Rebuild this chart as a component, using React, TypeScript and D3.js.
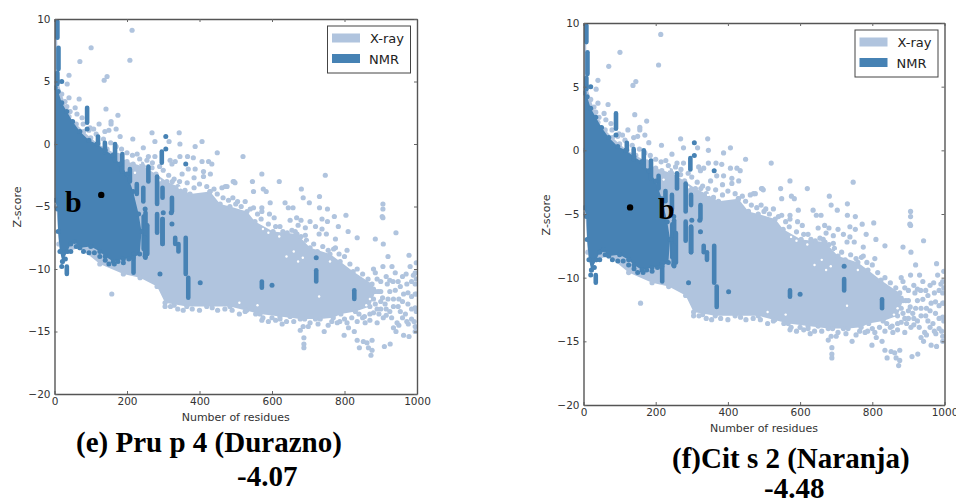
import * as d3 from "d3";
import {useEffect, useRef} from "react";

type Pt = [number, number];

const xTicks = [0, 200, 400, 600, 800, 1000];
const yTicks = [-20, -15, -10, -5, 0, 5, 10];
const legendLabels = ["X-ray", "NMR"];
const LIGHT = "#b0c4de";
const DARK = "#4682b4";

// outline of the solid X-ray cloud (residues, z-score)
const xrayOutline: Pt[] = [
    [1, 10], [6, 10], [10, 5], [20, 4], [40, 2.2], [60, 1.6], [80, 1], [100, .5], [120, 0], [145, -.4],
    [175, -.9], [200, -1.4], [245, -1.8], [280, -2.4], [310, -3], [340, -3.4], [374, -4], [429, -3.8],
    [457, -4.8], [484, -5], [531, -5.4], [553, -6.2], [603, -7], [669, -7.2], [705, -8.3], [760, -8.8],
    [788, -9.4], [824, -10.2], [876, -11.2], [885, -11.8], [870, -13], [830, -13.4], [790, -13.6],
    [769, -13.9], [733, -14], [678, -14], [622, -13.8], [567, -13.6], [484, -13], [420, -13], [365, -13],
    [305, -12.7], [283, -11.4], [236, -10.7], [190, -10.4], [125, -9.6], [70, -8.3], [35, -8.6],
    [22, -9.4], [12, -8], [5, -5], [1, 0],
];

// separate X-ray structures
const xrayPoints: Pt[] = [
    [214, 9.1], [101, 7.7], [208, 6.7], [70, 6.6], [145, 5.4], [137, 5.1], [40, 5.5], [35, 4.8], [68, 3.6],
    [142, 2.8], [175, 2.3], [40, 3.7], [123, 1.6], [156, 1.8], [156, 1.6], [170, 1.2], [150, 1.1], [139, 1],
    [269, .9], [181, .6], [216, .4], [57, 2.9], [62, 2.4], [76, 2.1], [79, 1.6], [29, 3.4], [34, 3], [43, 2.6],
    [98, 1.3], [108, 1.2], [344, .9], [277, .2], [346, 0], [407, .2], [388, -.2], [449, -.7], [316, .2],
    [346, -1], [367, -1], [383, -1.1], [407, -1.4], [425, -1.4], [434, -1.6], [319, -1.3], [333, -1.4],
    [324, -1.6], [369, -2], [388, -2], [411, -2.2], [430, -2.4], [385, -2.7], [411, -2.6], [493, -3], [498, -3.1],
    [476, -3.4], [462, -3.5], [449, -4], [429, -3.8], [352, -2.4], [366, -3.1], [325, -3], [245, -.3], [228, -.8],
    [259, -1], [277, -1], [217, -1.6], [241, -1.6], [269, -1.9], [520, -1], [572, -2.4], [620, -3], [747, -2.5],
    [495, -3], [546, -3], [549, -3.8], [576, -3.6], [584, -3.8], [471, -3.4], [681, -3.6], [686, -4.3], [731, -4.2],
    [703, -4.7], [731, -5.1], [636, -4.7], [645, -5.1], [658, -5.1], [753, -5.2], [753, -6.2], [772, -5.8],
    [804, -5.7], [783, -6.6], [810, -7], [835, -7.5], [942, -7.1], [906, -4.8], [906, -5.2], [904, -5.8], [906, -5.9],
    [885, -7.6], [907, -8], [692, -6.7], [738, -6], [664, -7], [775, -7.6], [920, -9], [978, -8.9], [775, -8.3],
    [807, -8.5], [738, -6.8], [692, -7.3], [622, -6.6], [642, -7.1], [595, -4.7], [572, -5.1], [572, -5.4],
    [593, -5.6], [606, -5.9], [492, -4.3], [526, -4.6], [549, -5.1], [505, -4.6], [931, -9.8], [906, -9.8], [880, -10],
    [970, -10.4], [995, -10.3], [981, -9.8], [934, -11], [918, -11.2], [954, -11.4], [995, -11.2], [893, -11.8],
    [963, -12], [935, -12.4], [912, -12.8], [890, -13.2], [907, -13.9], [954, -13.4], [968, -13.6], [995, -13.1],
    [945, -14.3], [976, -14.4], [995, -14.6], [935, -14.7], [942, -15], [963, -15.3], [978, -15.4], [995, -15],
    [807, -14.3], [811, -14.7], [799, -15.3], [744, -15], [827, -15], [835, -15.7], [841, -16.3], [852, -15.8],
    [862, -15.9], [876, -15.7], [866, -16.3], [876, -16.5], [873, -16.9], [910, -16.2], [926, -16], [688, -15.5],
    [688, -16], [688, -16.3], [678, -14.9], [686, -14.6], [572, -14.1], [622, -14], [628, -14.4], [526, -13.4],
    [545, -13.1], [490, -13.3], [650, -13.8], [705, -14.3], [727, -14.4], [755, -14.5], [787, -14.2], [857, -14.3],
    [890, -14.3], [158, -12], [998, -9.5], [998, -10.8], [998, -12], [998, -13.4], [880, -12.4], [900, -12.6],
    [925, -13.4], [870, -13.6], [850, -13.9], [820, -13.9], [835, -14.2], [765, -14.2], [700, -14.6], [660, -14.2],
    [600, -13.9], [590, -14.2], [510, -13.6], [450, -13.3], [400, -13.3], [340, -13.2], [320, -13], [305, -13],
];

// lumps on the rim of the cloud and in the thin tail past 880 residues
const xrayFringe: Pt[] = [
    [885, -10.3], [890, -10.8], [900, -11], [915, -10.6], [925, -10.9], [940, -10.3], [948, -11], [960, -10.6],
    [972, -11.2], [985, -11], [990, -10.5], [880, -11.6], [900, -11.8], [925, -11.8], [940, -11.7], [975, -11.9],
    [985, -12.2], [995, -12], [905, -12.3], [920, -12.4], [950, -12.4], [960, -12.6], [975, -12.8], [885, -12.8],
    [900, -13.2], [915, -13.2], [935, -13], [948, -13], [985, -13.2], [880, -13.5], [895, -13.6], [915, -13.7],
    [930, -13.9], [960, -13.9], [985, -14], [992, -14.2], [972, -14.2], [950, -14.5], [840, -13.6], [855, -13.8],
    [870, -14.1], [800, -14], [780, -14.3], [720, -14], [690, -14], [640, -14.2], [610, -14.1], [575, -13.9],
    [555, -13.6], [530, -13.3], [470, -13.2], [435, -13.1], [380, -13.2], [355, -13.3], [330, -12.9], [715, -8],
    [725, -8.6], [740, -8.2], [755, -8.5], [770, -8.4], [785, -8.8], [800, -9], [815, -9.6], [835, -10], [850, -10.4],
    [865, -10.8], [695, -7.7], [680, -7.4], [655, -6.9], [630, -7], [610, -6.6], [590, -6.4], [570, -6], [560, -5.6],
    [540, -5.2], [515, -5], [500, -4.8], [480, -4.5], [465, -4.3], [440, -3.6], [420, -3.4], [400, -3.2], [385, -3.5],
    [360, -3.7], [345, -3], [330, -2.8], [315, -2.5], [300, -2.1], [290, -1.8], [270, -1.5], [255, -1.3], [235, -1.2],
    [215, -.9], [200, -.7], [185, -.4], [170, -.2], [155, .1], [135, .4], [115, .8], [95, 1.1], [650, -6.1], [668, -5.9],
    [680, -6.1], [705, -6.2], [720, -6.6], [730, -7.2], [750, -7.2], [672, -6.5],
];

// small white holes left in the cloud
const xrayHoles: Pt[] = [
    [222, -2.3], [236, -1.5], [310, -2.2], [290, -2.9], [345, -3.5], [400, -2.5], [640, -9], [660, -8.6], [672, -9.4],
    [685, -9.1], [700, -7.9], [620, -7.4], [575, -6.8], [590, -7.1], [760, -9.4], [730, -12.2], [560, -12.9], [510, -12.7],
    [870, -12.4], [860, -12.9],
];

// outline of the solid NMR cloud
const nmrOutline: Pt[] = [
    [2, 4.5], [10, 4.2], [20, 3.3], [34, 2.6], [50, 1.8], [70, 1], [95, .3], [117, 0], [140, -.5], [161, -.9],
    [180, -1.6], [200, -2.4], [217, -3.8], [232, -5.6], [240, -7], [235, -8.8], [217, -9.1], [190, -9.2], [162, -9.4],
    [140, -9], [125, -8.6], [100, -8.2], [70, -8.3], [55, -7.8], [45, -8], [35, -8.6], [22, -9.4], [15, -8.6], [10, -7],
    [8, -5.2], [2, -4.5],
];

// runs of NMR structures at one chain length
const columnN = [
    8, 11, 8, 90, 120, 139, 167, 187, 208, 227, 259, 296, 283, 245, 298, 324, 283, 298, 246, 251, 256, 333, 342, 362,
    369, 218, 34, 572, 722, 827, 250, 298,
];
const columnTop = [
    9.8, 7.7, 5.7, 2.9, .6, .1, 0, -.8, -2, -3.2, -1.8, -.6, -2.6, -3.5, -3.5, -4.3, -5.6, -6, -5.8, -5.5, -6.5, -7.5,
    -8, -7.5, -10.7, -8.8, -9.8, -11, -10.1, -11.7, -7.5, -6,
];
const columnBottom = [
    8.5, 6, 4.8, 1.7, 0, -.7, -1.3, -2.2, -3, -4, -3, -1.5, -4.8, -4.6, -4.3, -5.4, -7.1, -8, -8.4, -9.1, -8.8, -8,
    -8.6, -10.4, -12.3, -10.3, -10.4, -11.5, -11, -12.4, -9, -8,
];
const nmrPoints: Pt[] = [
    [20, 5], [307, .6], [307, -.4], [362, -1.6], [324, -6.4], [250, -5.2], [300, -5.5], [322, -5.5], [291, -10.4],
    [402, -11.1], [600, -11.3], [722, -9.1], [20, -9.8], [90, 1.2], [250, -9], [30, -9.2], [45, -8.6], [60, -8.2],
    [80, -8.6], [95, -8.7], [110, -8.7], [125, -9], [140, -9.3], [150, -9.6], [165, -9.6], [175, -9.4], [190, -9.5],
    [205, -9.2],
];

type Panel = {
    left: number; right: number; top: number; bottom: number; score: number;
    titleY: number; legendY: number;
};

const panels: Panel[] = [
    {left: 54.5, right: 417, top: 19, bottom: 394, score: -4.07, titleY: 207, legendY: 26},
    {left: 583.5, right: 944.5, top: 23, bottom: 405, score: -4.48, titleY: 215, legendY: 30},
];

const useD3 = (renderChartFn: (g: any) => void) => {
    const ref = useRef<SVGGElement>(null);
    useEffect(() => {
        renderChartFn(d3.select(ref.current));
    }, []);
    return ref;
};

const ScorePanel = ({p, id}: {p: Panel; id: string}) => {
    const ref = useD3((g) => {
        g.selectAll("*").remove();
        const x = d3.scaleLinear().domain([0, 1000]).range([p.left, p.right]);
        const y = d3.scaleLinear().domain([-20, 10]).range([p.bottom, p.top]);
        const outline = d3.line<Pt>().x(d => x(d[0])).y(d => y(d[1])).curve(d3.curveLinearClosed);

        g.append("clipPath").attr("id", id).append("rect")
            .attr("x", p.left).attr("y", p.top)
            .attr("width", p.right - p.left).attr("height", p.bottom - p.top);

        const marks = g.append("g").attr("clip-path", `url(#${id})`)
            .append("g").attr("filter", "url(#soft)");

        marks.append("path").attr("d", outline(xrayOutline)).attr("fill", LIGHT);
        marks.selectAll("circle.xray").data(xrayOutline.concat(xrayPoints, xrayFringe)).enter().append("circle")
            .attr("class", "xray")
            .attr("cx", (d: Pt) => x(d[0])).attr("cy", (d: Pt) => y(d[1]))
            .attr("r", 2.6).attr("fill", LIGHT);
        marks.selectAll("circle.hole").data(xrayHoles).enter().append("circle")
            .attr("class", "hole")
            .attr("cx", (d: Pt) => x(d[0])).attr("cy", (d: Pt) => y(d[1]))
            .attr("r", 1.2).attr("fill", "#fff");

        marks.append("path").attr("d", outline(nmrOutline)).attr("fill", DARK);
        marks.selectAll("line.nmr").data(columnN).enter().append("line")
            .attr("class", "nmr")
            .attr("x1", (d: number) => x(d)).attr("x2", (d: number) => x(d))
            .attr("y1", (_: number, i: number) => y(columnTop[i]))
            .attr("y2", (_: number, i: number) => y(columnBottom[i]))
            .attr("stroke", DARK).attr("stroke-width", 4.6).attr("stroke-linecap", "round");
        marks.selectAll("circle.nmr").data(nmrOutline.concat(nmrPoints)).enter().append("circle")
            .attr("class", "nmr")
            .attr("cx", (d: Pt) => x(d[0])).attr("cy", (d: Pt) => y(d[1]))
            .attr("r", 2.5).attr("fill", DARK);

        g.append("circle").attr("cx", x(129)).attr("cy", y(p.score)).attr("r", 3.2).attr("fill", "#000");

        const fmt = (d: d3.NumberValue) => String(d).replace("-", "\u2212");
        const axes = [
            {a: d3.axisBottom(x).tickValues(xTicks).tickFormat(fmt), t: `translate(0,${p.bottom})`},
            {a: d3.axisTop(x).tickValues(xTicks).tickFormat(() => ""), t: `translate(0,${p.top})`},
            {a: d3.axisLeft(y).tickValues(yTicks).tickFormat(fmt), t: `translate(${p.left},0)`},
            {a: d3.axisRight(y).tickValues(yTicks).tickFormat(() => ""), t: `translate(${p.right},0)`},
        ];
        axes.forEach(({a, t}) => {
            const ax = g.append("g").attr("transform", t).call(a.tickSize(-3).tickPadding(4).tickSizeOuter(0));
            ax.select(".domain").attr("stroke", "#555").attr("stroke-width", 1.4);
            ax.selectAll(".tick line").attr("stroke", "#666");
            ax.selectAll("text").attr("font-family", "DejaVu Sans").attr("font-size", 10.5).attr("fill", "#333");
        });

        const lx = p.right - 89.5;
        const legend = g.append("g").attr("transform", `translate(${lx},${p.legendY})`);
        legend.append("rect").attr("width", 83).attr("height", 47)
            .attr("fill", "#fff").attr("stroke", "#444").attr("stroke-width", 1);
        legendLabels.forEach((label, i) => {
            legend.append("rect").attr("x", 4.5).attr("y", 7.5 + i * 20.5).attr("width", 28).attr("height", 9)
                .attr("fill", i ? DARK : LIGHT);
            legend.append("text").attr("x", i ? 41.5 : 42.5).attr("y", 17 + i * 20.5)
                .attr("font-family", "DejaVu Sans").attr("font-size", 13).attr("fill", "#222").text(label);
        });

        g.append("text").attr("x", (p.left + p.right) / 2).attr("y", p.bottom + 27)
            .attr("text-anchor", "middle").attr("font-family", "DejaVu Sans").attr("font-size", 11).attr("fill", "#333")
            .text("Number of residues");
        g.append("text").attr("transform", `translate(${p.left - 34},${p.titleY}) rotate(-90)`)
            .attr("text-anchor", "middle").attr("font-family", "DejaVu Sans").attr("font-size", 11).attr("fill", "#333")
            .text("Z-score");
    });
    return <g ref={ref}/>;
};

const serif = {fontFamily: "Liberation Serif", fontWeight: 700, fill: "#000"};

const App = () => (
    <svg width={956} height={499} style={{position: "absolute", left: 0, top: 0, background: "#fff"}}>
        <defs>
            <filter id="soft" x="0" y="0" width="1" height="1">
                <feGaussianBlur stdDeviation={0.4}/>
            </filter>
        </defs>
        <ScorePanel p={panels[0]} id="clipE"/>
        <ScorePanel p={panels[1]} id="clipF"/>
        <text x={65} y={212} fontSize={30} style={serif}>b</text>
        <text x={658} y={219} fontSize={30} style={serif}>b</text>
        <text x={76} y={452} fontSize={29} style={serif}>(e) Pru p 4 (Durazno)</text>
        <text x={237} y={486} fontSize={29} style={serif}>-4.07</text>
        <text x={672} y={468} fontSize={29} style={serif}>(f)Cit s 2 (Naranja)</text>
        <text x={764} y={498} fontSize={29} style={serif}>-4.48</text>
    </svg>
);

export default App;
